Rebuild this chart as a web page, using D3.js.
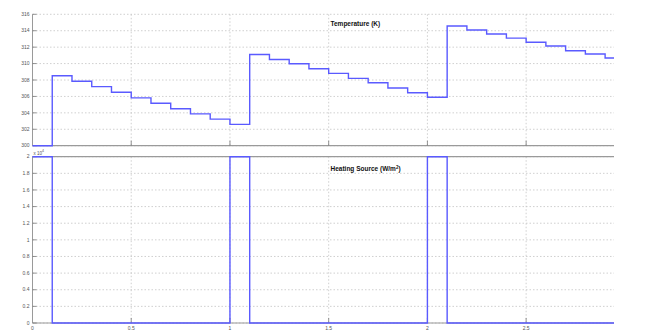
<!DOCTYPE html>
<html><head><meta charset="utf-8">
<script src="https://cdn.jsdelivr.net/npm/d3@7"></script>
<style>body{margin:0;background:#fff}svg{display:block}</style>
</head><body>
<svg id="c" width="672" height="333"></svg>
<script>
// ---- data ----
const tempStepStart = [0,0.1,0.2,0.3,0.4,0.5,0.6,0.7,0.8,0.9,1.0,1.1,1.2,1.3,1.4,1.5,1.6,1.7,1.8,1.9,2.0,2.1,2.2,2.3,2.4,2.5,2.6,2.7,2.8,2.9];
const tempValues = [300,308.52,307.84,307.19,306.5,305.82,305.17,304.5,303.88,303.23,302.6,311.11,310.5,309.98,309.37,308.81,308.2,307.67,307.03,306.45,305.9,314.58,314.09,313.6,313.1,312.6,312.14,311.57,311.17,310.68];
const heatTimes = [0,0.1,1.0,1.1,2.0,2.1];
const heatValues = [20000,0,20000,0,20000,0];
const xEnd = 2.945;
const xTicks = [0.5,1,1.5,2,2.5];
const xTickLabels = ["0.5","1","1.5","2","2.5"];
const tempTicks = [300,302,304,306,308,310,312,314,316];
const tempTickLabels = ["300","302","304","306","308","310","312","314","316"];
const heatTicks = [0,2000,4000,6000,8000,10000,12000,14000,16000,18000,20000];
const heatTickLabels = ["0","0.2","0.4","0.6","0.8","1","1.2","1.4","1.6","1.8","2"];
const titles = ["Temperature (K)","Heating Source (W/m"];

const svg = d3.select("#c");
const x = d3.scaleLinear().domain([0,xEnd]).range([32.5,614]);
const yT = d3.scaleLinear().domain([300,316]).range([145.7,14.3]);
const yH = d3.scaleLinear().domain([0,20000]).range([323,156.7]);
const grid = "#c4c4c4", axisC = "#9a9a9a", lineC = "#5a5aff", txt = "#555";
const font = "Arial, 'Liberation Sans', sans-serif";

function panel(y, ticks, labels, top, bottom, solidTop) {
  const g = svg.append("g");
  ticks.forEach(t => {
    g.append("line").attr("x1",x(0)).attr("x2",x(xEnd)).attr("y1",y(t)).attr("y2",y(t))
      .attr("stroke",grid).attr("stroke-width",0.8).attr("stroke-dasharray","1.5,2");
  });
  xTicks.forEach(t => {
    g.append("line").attr("x1",x(t)).attr("x2",x(t)).attr("y1",top).attr("y2",bottom)
      .attr("stroke",grid).attr("stroke-width",0.8).attr("stroke-dasharray","1.5,2");
  });
  g.append("line").attr("x1",x(0)).attr("x2",x(0)).attr("y1",top).attr("y2",bottom).attr("stroke",axisC).attr("stroke-width",1);
  g.append("line").attr("x1",x(0)).attr("x2",x(xEnd)).attr("y1",bottom).attr("y2",bottom).attr("stroke",axisC).attr("stroke-width",1.2);
  if (solidTop) g.append("line").attr("x1",x(0)).attr("x2",x(xEnd)).attr("y1",top).attr("y2",top).attr("stroke",axisC).attr("stroke-width",1.2);
  ticks.forEach((t,i) => {
    g.append("line").attr("x1",x(0)).attr("x2",x(0)+4).attr("y1",y(t)).attr("y2",y(t)).attr("stroke","#777").attr("stroke-width",0.8);
    g.append("text").attr("x",x(0)-3).attr("y",y(t)+1.7).attr("text-anchor","end")
      .attr("font-family",font).attr("font-size",5).attr("fill",txt).text(labels[i]);
  });
  xTicks.forEach(t => {
    g.append("line").attr("x1",x(t)).attr("x2",x(t)).attr("y1",bottom).attr("y2",bottom-5).attr("stroke","#777").attr("stroke-width",0.8);
  });
  return g;
}

panel(yT, tempTicks, tempTickLabels, 14.3, 145.7, false);
panel(yH, heatTicks, heatTickLabels, 156.7, 323, true);

// x tick labels (bottom panel)
xTicks.forEach((t,i) => {
  svg.append("text").attr("x",x(t)).attr("y",330).attr("text-anchor","middle")
    .attr("font-family",font).attr("font-size",5).attr("fill",txt).text(xTickLabels[i]);
});
svg.append("text").attr("x",x(0)).attr("y",330).attr("text-anchor","middle")
  .attr("font-family",font).attr("font-size",5).attr("fill",txt).text("0");

// x10^4 multiplier
const m = svg.append("text").attr("x",x(0)+1).attr("y",154.5)
  .attr("font-family",font).attr("font-size",4.5).attr("fill",txt);
m.append("tspan").text("x 10");
m.append("tspan").attr("dy",-2.5).attr("font-size",3.5).text("4");

// titles
svg.append("text").attr("x",330.5).attr("y",26).attr("font-family",font).attr("font-weight","bold")
  .attr("font-size",6.5).attr("fill","#111").text(titles[0]);
const t2 = svg.append("text").attr("x",330.5).attr("y",171).attr("font-family",font).attr("font-weight","bold")
  .attr("font-size",6.5).attr("fill","#111");
t2.append("tspan").text(titles[1]);
t2.append("tspan").attr("dy",-2.5).attr("font-size",4.5).text("2");
t2.append("tspan").attr("dy",2.5).text(")");

// temperature line
const tempData = tempStepStart.map((t,i) => [t, tempValues[i]]);
tempData.push([xEnd, tempValues[tempValues.length-1]]);
svg.append("path").datum(tempData)
  .attr("d", d3.line().x(d => x(d[0])).y(d => yT(d[1])).curve(d3.curveStepAfter))
  .attr("fill","none").attr("stroke",lineC).attr("stroke-width",1.4);

// heating line
const heatData = heatTimes.map((t,i) => [t, heatValues[i]]);
heatData.push([xEnd, heatValues[heatValues.length-1]]);
svg.append("path").datum(heatData)
  .attr("d", d3.line().x(d => x(d[0])).y(d => yH(d[1])).curve(d3.curveStepAfter))
  .attr("fill","none").attr("stroke",lineC).attr("stroke-width",1.4);
</script>
</body></html>
